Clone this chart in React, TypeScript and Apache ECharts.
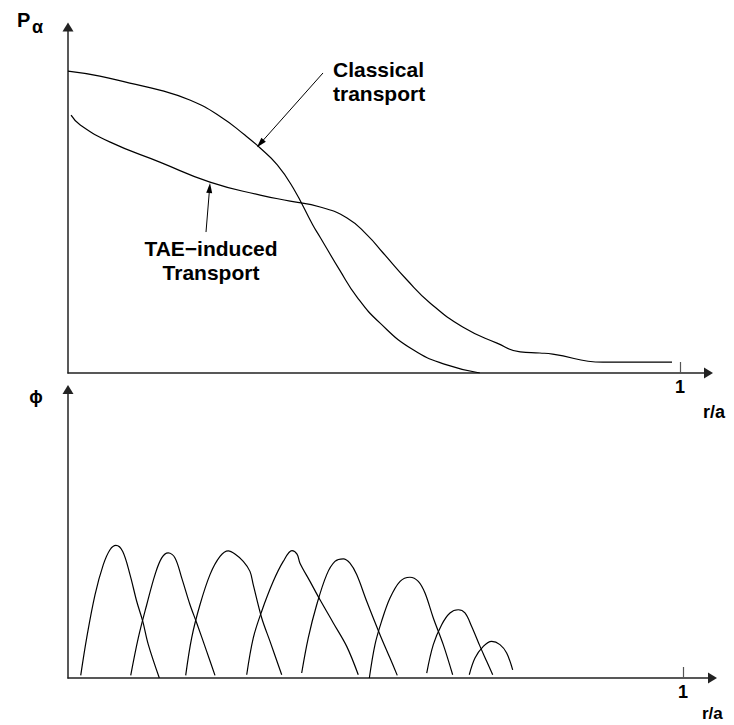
import { useEffect, useRef } from "react";
import * as echarts from "echarts";

// Upper panel: alpha-particle pressure profiles against r/a
const classicalR = [0, 0.052, 0.101, 0.15, 0.199, 0.248, 0.289, 0.314, 0.342, 0.368, 0.4, 0.412, 0.444, 0.472, 0.51, 0.564, 0.619, 0.673];
const classicalP = [0.86, 0.846, 0.826, 0.806, 0.778, 0.732, 0.678, 0.641, 0.593, 0.527, 0.422, 0.387, 0.293, 0.217, 0.142, 0.066, 0.023, 0];

const taeR = [0.005, 0.02, 0.069, 0.15, 0.232, 0.314, 0.363, 0.412, 0.456, 0.489, 0.515, 0.554, 0.592, 0.645, 0.701, 0.739, 0.771, 0.792, 0.874, 0.987];
const taeP = [0.735, 0.707, 0.658, 0.601, 0.544, 0.507, 0.49, 0.473, 0.442, 0.393, 0.342, 0.265, 0.199, 0.131, 0.085, 0.06, 0.057, 0.054, 0.031, 0.031];

// Lower panel: radial structure of the individual TAE eigenmodes
const modeR: number[][] = [
  [0.0207, 0.0304, 0.0439, 0.0574, 0.0683, 0.078, 0.089, 0.1008, 0.1117, 0.1215, 0.1306, 0.1485],
  [0.102, 0.1143, 0.128, 0.1415, 0.1524, 0.163, 0.174, 0.185, 0.1984, 0.2093, 0.2255, 0.239],
  [0.1914, 0.2011, 0.2146, 0.2309, 0.2472, 0.2607, 0.2715, 0.285, 0.2959, 0.3013, 0.315, 0.3285, 0.3475],
  [0.2906, 0.3013, 0.315, 0.3338, 0.35, 0.3642, 0.3724, 0.3772, 0.3935, 0.4098, 0.4314, 0.4532, 0.472],
  [0.38, 0.3907, 0.4044, 0.4207, 0.4341, 0.4477, 0.4585, 0.4694, 0.4857, 0.5073, 0.5236, 0.5354],
  [0.49, 0.4992, 0.51, 0.5236, 0.54, 0.556, 0.5696, 0.5805, 0.594, 0.6102, 0.6255],
  [0.5833, 0.594, 0.6076, 0.6211, 0.6346, 0.6455, 0.6564, 0.67, 0.6808, 0.6906],
  [0.6525, 0.6618, 0.6753, 0.6889, 0.7024, 0.7133, 0.7231],
];
const modePhi: number[][] = [
  [0.009, 0.137, 0.284, 0.387, 0.438, 0.453, 0.432, 0.353, 0.262, 0.194, 0.114, 0],
  [0.009, 0.137, 0.25, 0.353, 0.41, 0.427, 0.41, 0.341, 0.25, 0.188, 0.091, 0.009],
  [0.009, 0.137, 0.25, 0.353, 0.415, 0.434, 0.423, 0.398, 0.364, 0.318, 0.205, 0.125, 0.011],
  [0.011, 0.137, 0.228, 0.33, 0.398, 0.435, 0.423, 0.392, 0.33, 0.267, 0.188, 0.108, 0.011],
  [0.017, 0.137, 0.25, 0.353, 0.398, 0.407, 0.392, 0.353, 0.262, 0.148, 0.068, 0.009],
  [0, 0.114, 0.194, 0.273, 0.33, 0.344, 0.33, 0.29, 0.205, 0.114, 0.011],
  [0.017, 0.114, 0.182, 0.222, 0.233, 0.222, 0.176, 0.108, 0.057, 0.011],
  [0.011, 0.068, 0.108, 0.125, 0.114, 0.085, 0.028],
];

const xTickValues = [1];
const xTickLabels = ["1"];

// Annotation arrows: [tail, head] in data coordinates
const classicalArrow = [[0.4167, 0.855], [0.3142, 0.654]];
const taeArrow = [[0.2255, 0.4017], [0.2314, 0.527]];

const FONT = '"Liberation Sans", Arial, Helvetica, sans-serif';
const AXIS_COLOR = "#222";

const pairs = (xs: number[], ys: number[]) => xs.map((x, i) => [x, ys[i]]);

function xAxisCfg(gridIndex: number, max: number) {
  return {
    type: "value",
    gridIndex,
    min: 0,
    max,
    splitLine: { show: false },
    axisLine: {
      show: true,
      symbol: ["none", "triangle"],
      symbolSize: [11, 9],
      lineStyle: { color: AXIS_COLOR, width: 1.5 },
    },
    axisTick: {
      show: true,
      inside: true,
      length: 11,
      customValues: xTickValues,
      lineStyle: { color: "#555", width: 1.2 },
    },
    axisLabel: {
      show: true,
      customValues: xTickValues,
      formatter: (v: number) => xTickLabels[xTickValues.indexOf(v)] ?? "",
      margin: 5,
      color: "#000",
      fontSize: 18,
      fontWeight: "bold",
      fontFamily: FONT,
    },
  };
}

function yAxisCfg(gridIndex: number, max: number) {
  return {
    type: "value",
    gridIndex,
    min: 0,
    max,
    splitLine: { show: false },
    axisTick: { show: false },
    axisLabel: { show: false },
    axisLine: {
      show: true,
      symbol: ["none", "triangle"],
      symbolSize: [11, 9],
      lineStyle: { color: AXIS_COLOR, width: 1.5 },
    },
  };
}

function arrowMark(arrow: number[][]) {
  return {
    silent: true,
    symbol: ["none", "triangle"],
    symbolSize: [6, 10],
    label: { show: false },
    lineStyle: { color: "#000", width: 1, type: "solid" },
    emphasis: { disabled: true },
    data: [[{ coord: arrow[0] }, { coord: arrow[1] }]],
  };
}

function text(x: number, y: number, str: string, size: number, align = "left", lineHeight?: number) {
  return {
    type: "text",
    x,
    y,
    silent: true,
    style: {
      text: str,
      font: `bold ${size}px ${FONT}`,
      fill: "#000",
      textAlign: align,
      textVerticalAlign: "middle",
      align,
      verticalAlign: "middle",
      lineHeight: lineHeight ?? size,
    },
  };
}

export default function App() {
  const ref = useRef<HTMLDivElement>(null);

  useEffect(() => {
    if (!ref.current) return;
    const chart = echarts.init(ref.current, undefined, { renderer: "svg" });

    const lineStyle = { color: "#000", width: 1.2 };

    const modeSeries = modeR.map((xs, i) => ({
      type: "line",
      name: `mode ${i + 1}`,
      xAxisIndex: 1,
      yAxisIndex: 1,
      data: pairs(xs, modePhi[i]),
      showSymbol: false,
      smooth: 0.35,
      lineStyle,
      silent: true,
    }));

    chart.setOption({
      animation: false,
      backgroundColor: "#fff",
      grid: [
        { left: 68, top: 27, width: 640.5, height: 346, outerBoundsMode: "none", containLabel: false },
        { left: 68, top: 389.5, width: 644.5, height: 288.5, outerBoundsMode: "none", containLabel: false },
      ],
      xAxis: [xAxisCfg(0, 1.0466), xAxisCfg(1, 1.048)],
      yAxis: [yAxisCfg(0, 0.986), yAxisCfg(1, 0.985)],
      series: [
        {
          type: "line",
          name: "Classical transport",
          xAxisIndex: 0,
          yAxisIndex: 0,
          data: pairs(classicalR, classicalP),
          showSymbol: false,
          smooth: 0.5,
          lineStyle,
          silent: true,
          markLine: arrowMark(classicalArrow),
        },
        {
          type: "line",
          name: "TAE-induced Transport",
          xAxisIndex: 0,
          yAxisIndex: 0,
          data: pairs(taeR, taeP),
          showSymbol: false,
          smooth: 0.5,
          lineStyle,
          silent: true,
          markLine: arrowMark(taeArrow),
        },
        ...modeSeries,
      ],
      graphic: [
        text(17, 20, "P", 20),
        text(32, 27, "α", 18),
        text(36, 397, "ϕ", 18, "center"),
        text(703, 412, "r/a", 18),
        text(702, 713, "r/a", 17),
        text(333, 81, "Classical\ntransport", 21, "left", 24),
        text(211, 260, "TAE−induced\nTransport", 21, "center", 24),
      ],
    });

    return () => chart.dispose();
  }, []);

  return (
    <div
      ref={ref}
      style={{ position: "absolute", left: 0, top: 0, width: 734, height: 725 }}
    />
  );
}
